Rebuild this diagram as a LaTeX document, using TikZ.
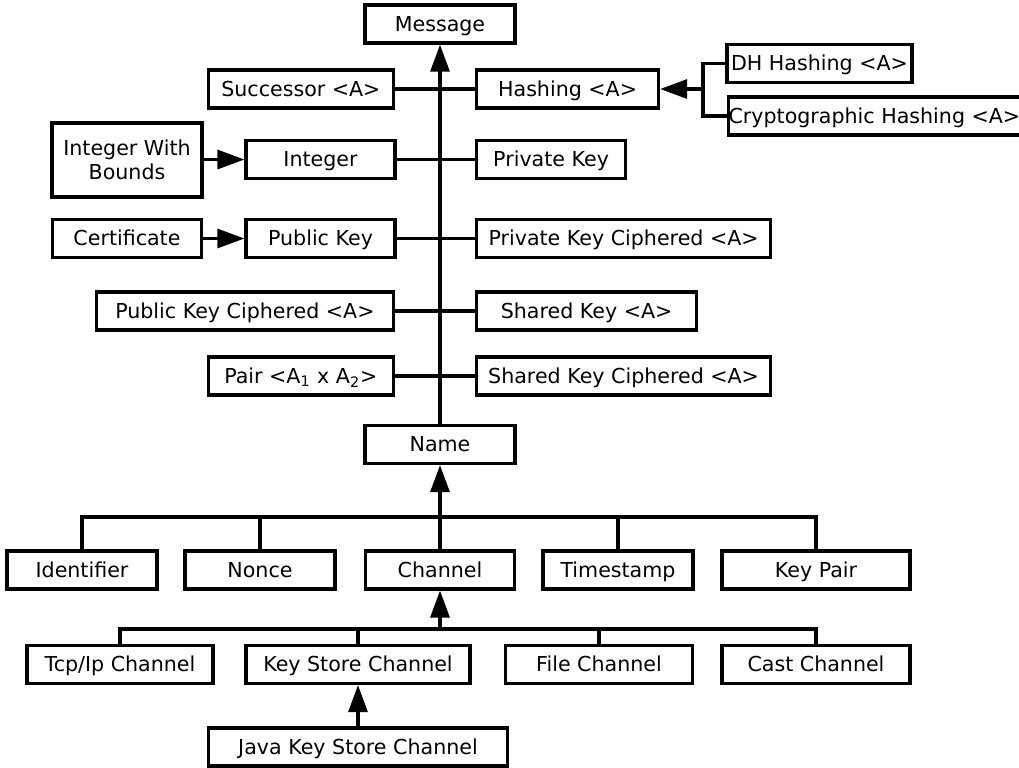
\documentclass[tikz,border=0pt]{standalone}
\usepackage{fontspec}
\setmainfont{DejaVu Sans}
\usetikzlibrary{arrows.meta}
\tikzset{
  box/.style={draw, line width=1.6pt, minimum height=19pt, inner sep=0pt, text height=7.6pt, text depth=0.4pt, font=\fontsize{10.3}{12}\selectfont},
  twobox/.style={draw, line width=1.6pt, inner sep=0pt, align=center, font=\fontsize{10.3}{12}\selectfont},
  inh/.style={-{Triangle[length=13.5pt,width=9.5pt]}},
}
\begin{document}
\begin{tikzpicture}[x=0.5pt, y=-0.5pt, line width=1.6pt]
    \useasboundingbox (0,0) rectangle (1019,767);
    % top part
    \node[box, minimum width=75pt] (msg) at (440,24) {Message};
    \node[box, minimum width=92.5pt, anchor=east] (succ) at (395,89) {Successor <A>};
    \node[box, minimum width=91pt, anchor=west] (hash) at (475,89) {Hashing <A>};
    \node[box, minimum width=92.5pt] (dh) at (819.5,63.5) {DH Hashing <A>};
    \node[box, minimum width=145.5pt, anchor=west] (crypto) at (727,116) {Cryptographic Hashing <A>};
    \node[twobox, minimum width=75pt, minimum height=37pt] (iwb) at (127,160) {Integer With\\Bounds};
    \node[box, minimum width=74.5pt] (int) at (320.5,159.5) {Integer};
    \node[box, minimum width=74.5pt, anchor=west] (priv) at (475,159.5) {Private Key};
    \node[box, minimum width=74.5pt] (cert) at (127,238.5) {Certificate};
    \node[box, minimum width=74.5pt] (pub) at (320.5,238.5) {Public Key};
    \node[box, minimum width=147pt, anchor=west] (privc) at (475,238.5) {Private Key Ciphered <A>};
    \node[box, minimum width=148.5pt, anchor=east] (pubc) at (395,311) {Public Key Ciphered <A>};
    \node[box, minimum width=110pt, anchor=west] (shared) at (475,311) {Shared Key <A>};
    \node[box, minimum width=92.5pt, anchor=east] (pair) at (395,376) {Pair <A\textsubscript{1} x A\textsubscript{2}>};
    \node[box, minimum width=147pt, anchor=west] (sharedc) at (475,376) {Shared Key Ciphered <A>};
    \node[box, minimum width=75pt] (name) at (440,444.5) {Name};
    \draw[inh] (name.north) -- (msg.south);
    \draw (succ.east) -- (hash.west);
    \draw (int.east) -- (priv.west);
    \draw (pub.east) -- (privc.west);
    \draw (pubc.east) -- (shared.west);
    \draw (pair.east) -- (sharedc.west);
    \draw[inh] (iwb.east |- int.west) -- (int.west);
    \draw[inh] (cert.east) -- (pub.west);
    \coordinate (fork) at (703,89);
    \draw (fork) |- (dh.west);
    \draw (fork) |- (crypto.west);
    \draw[inh] (fork) -- (hash.east);
    % names
    \node[box, minimum width=75pt] (ident) at (82,570) {Identifier};
    \node[box, minimum width=75pt] (nonce) at (260,570) {Nonce};
    \node[box, minimum width=74.5pt] (chan) at (440,570) {Channel};
    \node[box, minimum width=75pt] (stamp) at (618,570) {Timestamp};
    \node[box, minimum width=94pt] (kpair) at (816,570) {Key Pair};
    \coordinate (nbus) at (440,517);
    \draw[inh] (chan.north) -- (name.south);
    \draw (ident.north) |- (nbus) -| (kpair.north);
    \draw (nonce.north) -- (nonce.north |- nbus);
    \draw (stamp.north) -- (stamp.north |- nbus);
    % channels
    \node[box, minimum width=93pt] (tcp) at (120,664.5) {Tcp/Ip Channel};
    \node[box, minimum width=112pt] (ksc) at (358,664.5) {Key Store Channel};
    \node[box, minimum width=93.5pt] (file) at (599,664.5) {File Channel};
    \node[box, minimum width=94pt] (cast) at (816,664.5) {Cast Channel};
    \node[box, minimum width=149.5pt] (jksc) at (358,747) {Java Key Store Channel};
    \coordinate (cbus) at (440,629);
    \draw[inh] (cbus) -- (chan.south);
    \draw (tcp.north) |- (cbus) -| (cast.north);
    \draw (ksc.north) -- (ksc.north |- cbus);
    \draw (file.north) -- (file.north |- cbus);
    \draw[inh] (jksc.north) -- (ksc.south);
\end{tikzpicture}
\end{document}
